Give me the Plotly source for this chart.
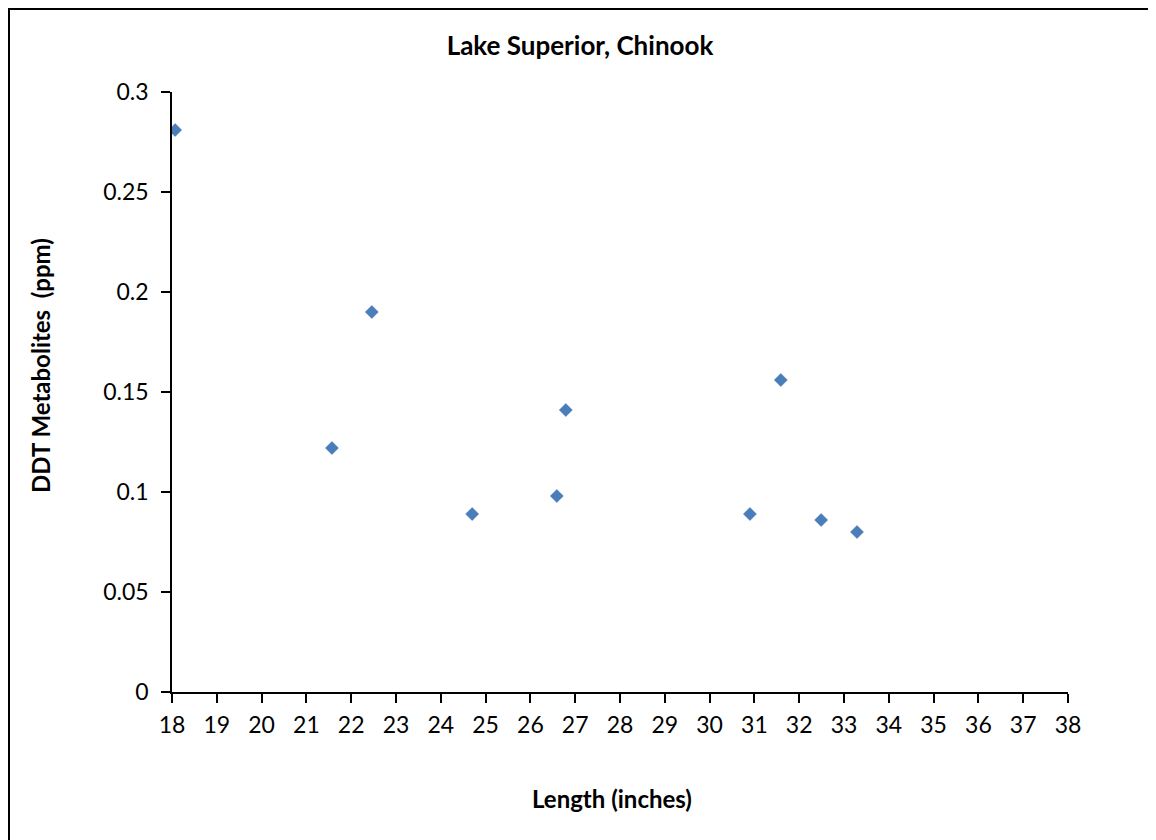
import plotly.graph_objects as go

# fish length (inches) vs DDT metabolites (ppm)
length_in = [18.07, 21.57, 22.46, 24.70, 26.59, 26.79, 30.90, 31.59, 32.49, 33.29]
ddt_ppm = [0.281, 0.122, 0.190, 0.089, 0.098, 0.141, 0.089, 0.156, 0.086, 0.080]

x_ticks = list(range(18, 39))
y_ticks = [0, 0.05, 0.1, 0.15, 0.2, 0.25, 0.3]
y_labels = ["0", "0.05", "0.1", "0.15", "0.2", "0.25", "0.3"]

font_name = "Lato, Open Sans, sans-serif"

# page has an 8px body margin, so margins are shifted by 8
fig = go.Figure()
fig.add_trace(go.Scatter(
    x=length_in, y=ddt_ppm, mode="markers",
    marker=dict(symbol="diamond", size=10, color="#4a7ebb",
                line=dict(width=0.5, color="#3f6fa8")),
    showlegend=False,
))

fig.update_layout(
    width=1156, height=840,
    margin=dict(l=164, r=96, t=84, b=156),
    paper_bgcolor="white", plot_bgcolor="white",
    font=dict(family=font_name, color="black", size=23),
    title=dict(text="<b>Lake Superior, Chinook</b>", x=(580 - 8) / 1156, xref="container",
               y=1 - 38 / 840, yanchor="middle", font=dict(size=26)),
    xaxis=dict(range=[18, 38], tickvals=x_ticks, ticks="outside", ticklen=9,
               tickwidth=1.5, tickcolor="black", showline=True, linecolor="black",
               linewidth=1.5, showgrid=False, zeroline=False, ticklabelstandoff=3),
    yaxis=dict(range=[0, 0.3], tickvals=y_ticks, ticktext=y_labels, ticks="outside",
               ticklen=9, tickwidth=1.5, tickcolor="black", showline=True,
               linecolor="black", linewidth=1.5, showgrid=False, zeroline=False,
               ticklabelstandoff=8),
    annotations=[
        dict(text="<b>Length (inches)</b>", xref="paper", yref="paper",
             x=(604 - 164) / 896, y=(684 - 790) / 600, showarrow=False,
             xanchor="center", yanchor="middle", font=dict(size=24)),
        dict(text="<b>DDT Metabolites  (ppm)</b>", xref="paper", yref="paper",
             x=(32 - 164) / 896, y=(684 - 358) / 600, showarrow=False, textangle=-90,
             xanchor="center", yanchor="middle", font=dict(size=24)),
    ],
    shapes=[dict(type="rect", xref="paper", yref="paper",
                 x0=(1 - 164) / 896, x1=(1143 - 164) / 896,
                 y0=(684 - 860) / 600, y1=(684 - 1) / 600,
                 line=dict(color="black", width=2))],
)

fig.write_html("out.html")
